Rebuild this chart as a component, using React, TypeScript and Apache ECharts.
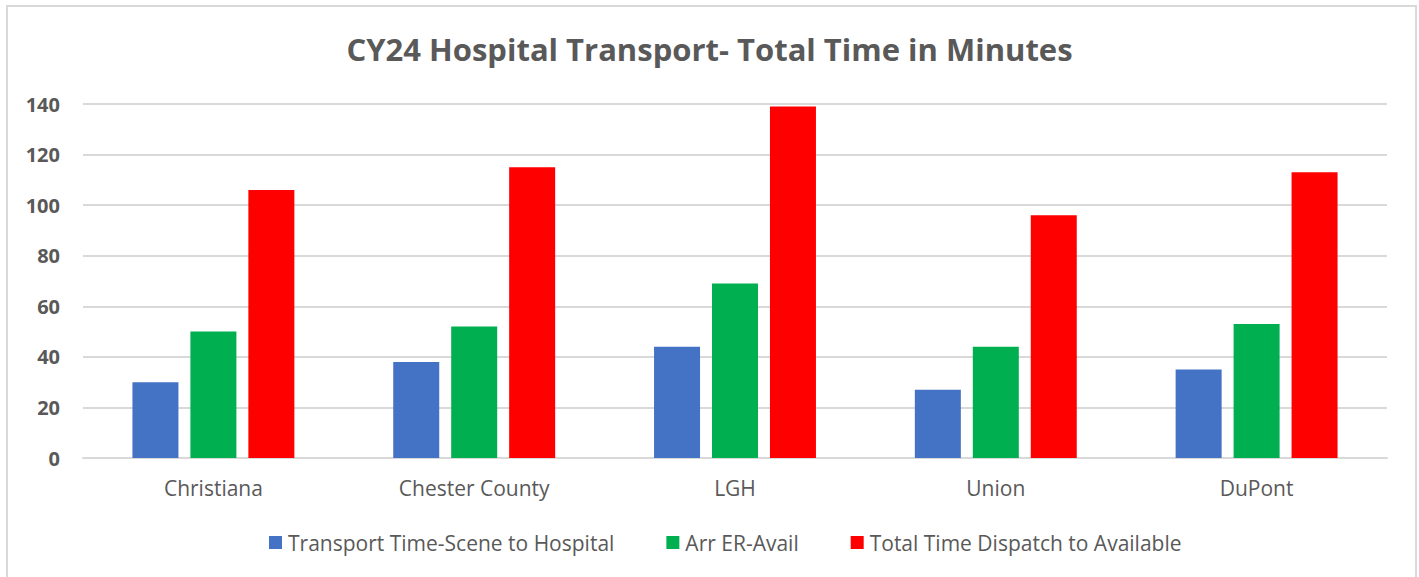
import React, { useEffect, useRef } from "react";
import * as echarts from "echarts";

const categories = ["Christiana", "Chester County", "LGH", "Union", "DuPont"];
const transportTime = [30, 38, 44, 27, 35];
const arrErAvail = [50, 52, 69, 44, 53];
const totalTime = [106, 115, 139, 96, 113];
const seriesNames = [
  "Transport Time-Scene to Hospital",
  "Arr ER-Avail",
  "Total Time Dispatch to Available",
];
const colors = ["#4472C4", "#00B050", "#FF0000"];

const FONT = "Open Sans";

export default function App() {
  const ref = useRef<HTMLDivElement>(null);
  useEffect(() => {
    if (!ref.current) return;
    const chart = echarts.init(ref.current, undefined, { renderer: "svg" });
    const datasets = [transportTime, arrErAvail, totalTime];
    chart.setOption({
      animation: false,
      backgroundColor: "#ffffff",
      title: {
        text: "CY24 Hospital Transport- Total Time in Minutes",
        left: "center",
        top: 28,
        textStyle: {
          fontFamily: FONT,
          fontSize: 31,
          fontWeight: "bold",
          color: "#595959",
        },
      },
      graphic: [
        {
          type: "rect",
          shape: { x: 7, y: 6, width: 1409, height: 590 },
          style: { fill: "none", stroke: "#d9d9d9", lineWidth: 2 },
          silent: true,
        },
      ],
      legend: {
        top: 527,
        left: 264,
        itemWidth: 13,
        itemHeight: 13,
        itemGap: 52,
        icon: "rect",
        textStyle: {
          fontFamily: FONT,
          fontSize: 21,
          color: "#595959",
          padding: [0, 0, 0, 1],
        },
        data: seriesNames,
      },
      grid: { left: 83, right: 32, top: 104, bottom: 119, containLabel: false },
      xAxis: {
        type: "category",
        data: categories,
        axisLine: { lineStyle: { color: "#d9d9d9", width: 2 } },
        axisTick: { show: false },
        axisLabel: {
          fontFamily: FONT,
          fontSize: 21,
          color: "#595959",
          margin: 19,
        },
      },
      yAxis: {
        type: "value",
        min: 0,
        max: 140,
        interval: 20,
        axisLine: { show: false },
        axisTick: { show: false },
        splitLine: { lineStyle: { color: "#d9d9d9", width: 2 } },
        axisLabel: {
          fontFamily: FONT,
          fontSize: 20,
          fontWeight: "bold",
          color: "#595959",
          margin: 23,
        },
      },
      series: datasets.map((d, i) => ({
        name: seriesNames[i],
        type: "bar",
        data: d,
        barWidth: 46,
        barGap: "26%",
        itemStyle: { color: colors[i] },
      })),
    });
    return () => chart.dispose();
  }, []);
  return (
    <div
      ref={ref}
      style={{ position: "absolute", left: 0, top: 0, width: 1419, height: 577 }}
    />
  );
}
